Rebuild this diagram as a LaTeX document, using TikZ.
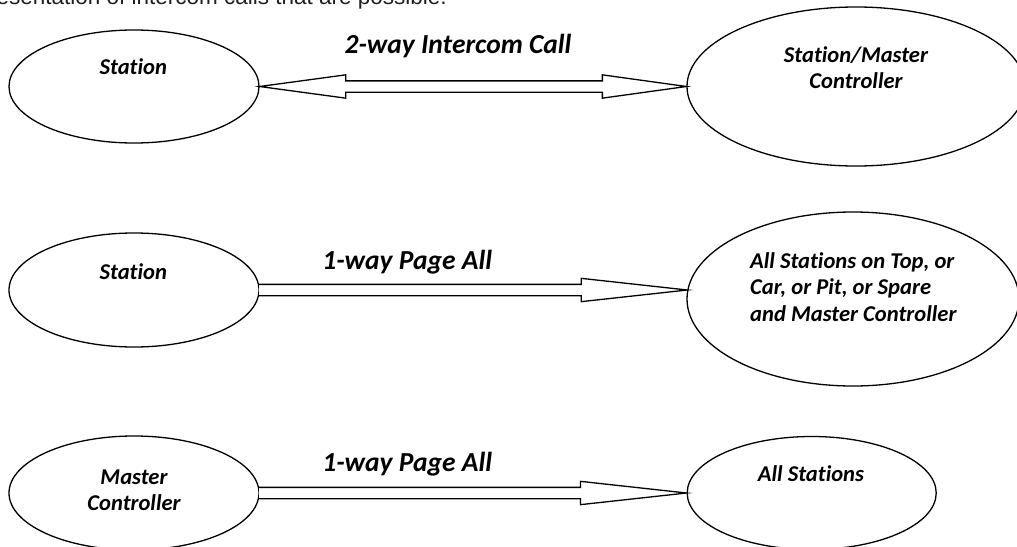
\documentclass[tikz,border=0pt]{standalone}
\usepackage{fontspec}
\setmainfont{Carlito}[Ligatures={NoCommon}]
\newfontfamily\arialf{Liberation Sans}
\usetikzlibrary{shapes.geometric,calc}
\tikzset{
  oval/.style={draw=black, line width=1.3pt, ellipse, fill=white, inner sep=0pt},
  ovaltext/.style={inner sep=0pt, font=\bfseries\itshape\fontsize{22.6}{26.3}\selectfont},
  arrowlabel/.style={inner sep=0pt, anchor=base, font=\bfseries\itshape\fontsize{27.5}{32}\selectfont},
  blockarrow/.style={draw=black, line width=1.3pt, fill=white, line join=miter},
}
\begin{document}
\begin{tikzpicture}[x=1pt,y=-1pt]
\useasboundingbox (0,0) rectangle (1017,546);
\clip (0,0) rectangle (1017,546);
\fill[white] (0,0) rectangle (1017,546);

% caption line, cut off at the top of the picture
\node[anchor=base east, inner sep=0pt, text=black!88, font=\arialf\fontsize{22.5}{27}\selectfont] (cap) at (447,5) {representation of intercom calls that are possible.};

% ---- row 1 ----
\node[oval, minimum width=250pt, minimum height=113pt] (A) at (134,86.5) {};
\node[oval, minimum width=338pt, minimum height=159pt] (B) at (856,86.5) {};
\draw[blockarrow]
  (A.east) -- ($(A.east)+(86,-11.65)$) -- ($(A.east)+(86,-5.65)$)
  -- ($(B.west)+(-84,-5.65)$) -- ($(B.west)+(-84,-11.65)$) -- (B.west)
  -- ($(B.west)+(-84,11.65)$) -- ($(B.west)+(-84,5.65)$)
  -- ($(A.east)+(86,5.65)$) -- ($(A.east)+(86,11.65)$) -- cycle;
\node[ovaltext, anchor=base] (At) at (133.3,74.3) {Station};
\node[ovaltext, anchor=north, align=center] (Bt) at (856,46.5) {Station/Master\\Controller};
\node[arrowlabel] (L1) at (458,53) {2-way Intercom Call};

% ---- row 2 ----
\node[oval, minimum width=250pt, minimum height=114pt] (C) at (134,290) {};
\node[oval, minimum width=332pt, minimum height=174pt] (D) at (853,299) {};
\coordinate (Dtip) at ($(D.west |- C.east)+(0.9,0)$);
\draw[blockarrow]
  ($(C.east)+(-0.6,-5.65)$) -- ($(Dtip)+(-106,-5.65)$) -- ($(Dtip)+(-106,-11.65)$)
  -- (Dtip) -- ($(Dtip)+(-106,11.65)$) -- ($(Dtip)+(-106,5.65)$)
  -- ($(C.east)+(-0.6,5.65)$);
\node[ovaltext, anchor=base] (Ct) at (133.3,279.3) {Station};
\node[ovaltext, anchor=north west, align=left] (Dt) at (750,252.5) {All Stations on Top, or\\Car, or Pit, or Spare\\and Master Controller};
\node[arrowlabel] (L2) at (407.2,269) {1-way Page All};

% ---- row 3 ----
\node[oval, minimum width=250pt, minimum height=114pt] (E) at (134,493) {};
\node[oval, minimum width=249pt, minimum height=113pt] (F) at (811.7,493) {};
\draw[blockarrow]
  ($(E.east)+(-0.6,-5.65)$) -- ($(F.west)+(-106,-5.65)$) -- ($(F.west)+(-106,-11.65)$)
  -- (F.west) -- ($(F.west)+(-106,11.65)$) -- ($(F.west)+(-106,5.65)$)
  -- ($(E.east)+(-0.6,5.65)$);
\node[ovaltext, anchor=north, align=center] (Et) at (134,469.2) {Master\\Controller};
\node[ovaltext, anchor=base] (Ft) at (811,481.7) {All Stations};
\node[arrowlabel] (L3) at (407.2,471.7) {1-way Page All};
\end{tikzpicture}
\end{document}
